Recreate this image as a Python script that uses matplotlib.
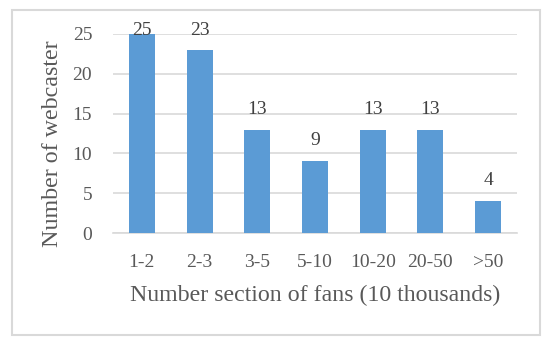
import matplotlib
matplotlib.use("Agg")
import matplotlib.pyplot as plt
from matplotlib.patches import Rectangle

categories = ["1-2", "2-3", "3-5", "5-10", "10-20", "20-50", ">50"]
values = [25, 23, 13, 9, 13, 13, 4]
yticks = [0, 5, 10, 15, 20, 25]

plt.rcParams['font.family'] = ['Liberation Serif', 'DejaVu Serif']

W, H = 550, 344
fig = plt.figure(figsize=(W/100, H/100), dpi=100)
fig.patch.set_facecolor("white")
fig.patches.append(Rectangle((11.5/W, 9/H), 528/W, 325/H, transform=fig.transFigure,
                             fill=False, edgecolor="#d9d9d9", linewidth=1.5))

ax = fig.add_axes([113/W, 1 - 233/H, (517-113)/W, (233-34)/H])
x = range(len(categories))
ax.bar(x, values, width=0.45, color="#5B9BD5", zorder=3)
ax.set_xlim(-0.5, len(categories) - 0.5)
ax.set_ylim(0, 25)
ax.set_yticks(yticks)
ax.set_xticks(list(x))
ax.set_xticklabels(categories)
ax.yaxis.grid(True, color="#d9d9d9", linewidth=1.2, zorder=0)
ax.set_axisbelow(True)
for s in ["top", "right", "left"]:
    ax.spines[s].set_visible(False)
ax.spines["bottom"].set_color("#d9d9d9")
ax.spines["bottom"].set_linewidth(1.2)
ax.tick_params(axis="both", length=0, colors="#595959", labelsize=14)
ax.tick_params(axis="x", pad=15)
ax.tick_params(axis="y", pad=15)
for xi, v in zip(x, values):
    ax.text(xi, min(v + 2.0, 24.85), str(v), ha="center", va="baseline",
            fontsize=14, color="#404040", zorder=4)
ax.set_xlabel("Number section of fans (10 thousands)", fontsize=17.2, color="#595959", labelpad=10)
ax.set_ylabel("Number of webcaster", fontsize=17.3, color="#595959")
ax.yaxis.set_label_coords(-60/(517-113), 0.45)
ax.yaxis.label.set_verticalalignment("center")
ax.set_facecolor("none")

fig.savefig("out.png", dpi=100, facecolor="white")
